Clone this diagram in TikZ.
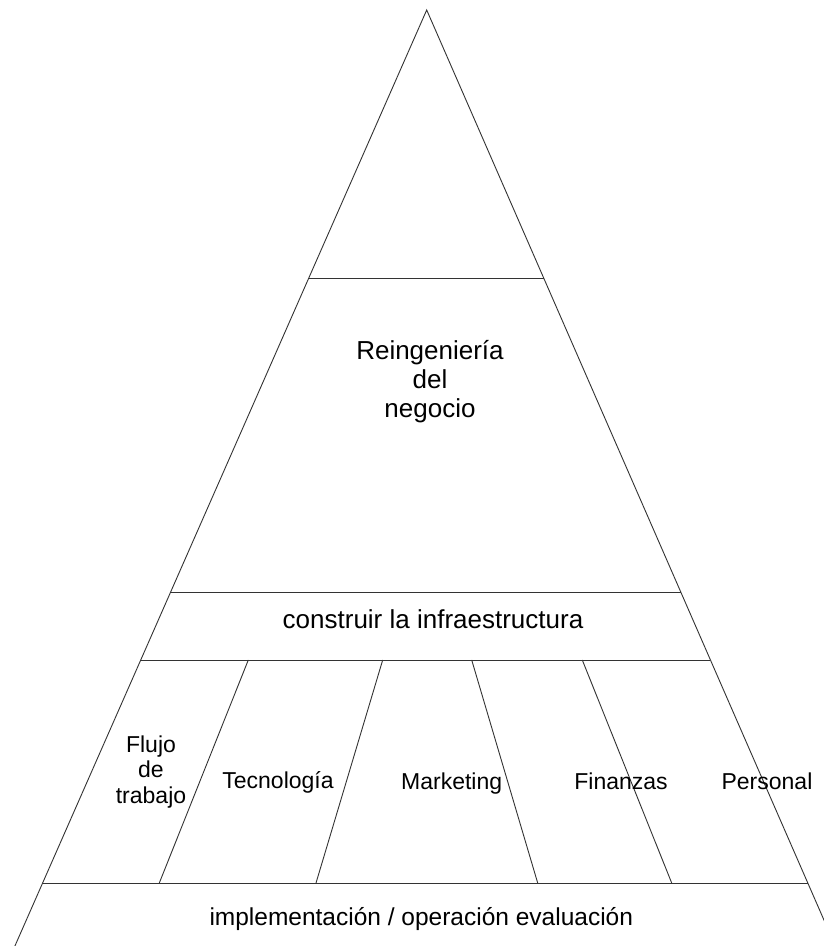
\documentclass[tikz,border=0pt]{standalone}
\usepackage{fontspec}
\setmainfont{Liberation Sans}
\begin{document}
\begin{tikzpicture}[x=1pt,y=-1pt,
  edge/.style={draw=black!80,line width=0.9pt},
  label/.style={inner sep=0pt,font=\fontsize{26}{29}\selectfont},
  small/.style={inner sep=0pt,font=\fontsize{23}{25.5}\selectfont},
  base/.style={inner sep=0pt,font=\fontsize{24.5}{27}\selectfont}]
\useasboundingbox (0,0) rectangle (824,946);
\fill[white] (0,0) rectangle (824,946);

% pyramid corners and level points
\coordinate (apex) at (426.7,10);
\coordinate (L0) at (14.9,946);   \coordinate (R0) at (835.3,946);
\coordinate (L1) at (308.8,278);  \coordinate (R1) at (543.7,278);
\coordinate (L2) at (170.6,592);  \coordinate (R2) at (680.7,592);
\coordinate (L3) at (140.7,660);  \coordinate (R3) at (710.4,660);
\coordinate (L4) at (42.6,883);   \coordinate (R4) at (807.8,883);

% column dividers of the lower band
\coordinate (d1t) at (248.3,660); \coordinate (d1b) at (159.3,883);
\coordinate (d2t) at (382.7,660); \coordinate (d2b) at (316.0,883);
\coordinate (d3t) at (471.7,660); \coordinate (d3b) at (537.7,883);
\coordinate (d4t) at (582.3,660); \coordinate (d4b) at (671.7,883);

\begin{scope}
\clip (0,0) rectangle (824,946);
\draw[edge] (L0) -- (apex) -- (R0);
\end{scope}
\draw[edge] (L1) -- (R1);
\draw[edge] (L2) -- (R2);
\draw[edge] (L3) -- (R3);
\draw[edge] (L4) -- (R4);
\draw[edge] (d1t) -- (d1b);
\draw[edge] (d2t) -- (d2b);
\draw[edge] (d3t) -- (d3b);
\draw[edge] (d4t) -- (d4b);

% labels
\node[label,align=center] (reing) at (430,382) {Reingeniería\\del\\negocio};
\node[label,anchor=base] (infra) at (433,628) {construir la infraestructura};
\node[small,align=center] (flujo) at (151,772) {Flujo\\de\\trabajo};
\node[small,anchor=base] (tecno) at (278,788) {Tecnología};
\node[small,anchor=base] (mkt) at (451.7,789) {Marketing};
\node[small,anchor=base] (fin) at (621,789) {Finanzas};
\node[small,anchor=base] (pers) at (767,789) {Personal};
\node[base,anchor=base west] (impl) at (209.3,925) {implementación / operación evaluación};
\end{tikzpicture}
\end{document}
